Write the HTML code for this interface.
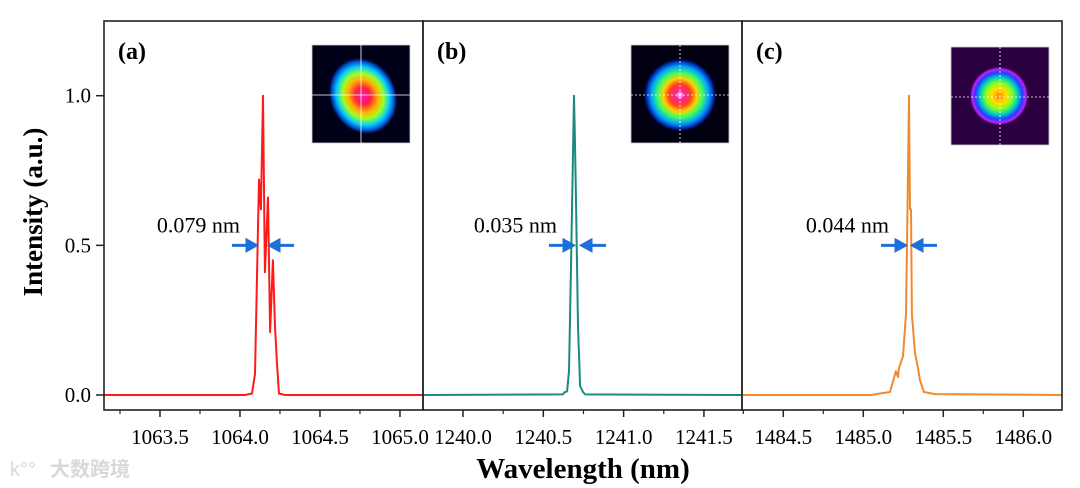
<!DOCTYPE html>
<html><head><meta charset="utf-8">
<style>
html,body{margin:0;padding:0;background:#fff;}
svg{display:block;font-family:"Liberation Serif",serif;}
</style></head>
<body>
<svg id="chart" width="1080" height="488" viewBox="0 0 1080 488">
<defs>
<radialGradient id="gA" cx="0.5" cy="0.5" r="0.5">
<stop offset="0" stop-color="#ff10c0"/><stop offset="0.22" stop-color="#ff2040"/><stop offset="0.42" stop-color="#ffb000"/><stop offset="0.58" stop-color="#a0ff20"/><stop offset="0.75" stop-color="#00d0ff"/><stop offset="0.9" stop-color="#0040c0"/><stop offset="1" stop-color="#000010" stop-opacity="0"/>
</radialGradient>
<radialGradient id="gB" cx="0.5" cy="0.5" r="0.5">
<stop offset="0" stop-color="#ffffff"/><stop offset="0.12" stop-color="#ff20a0"/><stop offset="0.3" stop-color="#ff4020"/><stop offset="0.45" stop-color="#ffd000"/><stop offset="0.6" stop-color="#40ff60"/><stop offset="0.78" stop-color="#00a0ff"/><stop offset="0.92" stop-color="#0020a0"/><stop offset="1" stop-color="#000010" stop-opacity="0"/>
</radialGradient>
<radialGradient id="gC" cx="0.5" cy="0.5" r="0.5">
<stop offset="0" stop-color="#ff8000"/><stop offset="0.25" stop-color="#ffe000"/><stop offset="0.45" stop-color="#80ff20"/><stop offset="0.62" stop-color="#00d0c0"/><stop offset="0.78" stop-color="#2040ff"/><stop offset="0.9" stop-color="#c020ff"/><stop offset="1" stop-color="#300040" stop-opacity="0"/>
</radialGradient>
</defs>
<g id="plots"></g>
<text x="42" y="212" transform="rotate(-90 42 212)" text-anchor="middle" font-size="27" font-weight="bold">Intensity (a.u.)</text>
<text x="583" y="478" text-anchor="middle" font-size="29" font-weight="bold">Wavelength (nm)</text>
<text x="50" y="476" font-size="20" fill="#d8d8d8" font-family="'Liberation Sans','Noto Sans CJK SC',sans-serif" font-weight="bold">大数跨境</text>
<text x="10" y="476" font-size="20" fill="#d8d8d8" font-family="'Liberation Sans',sans-serif">k°°</text>
</svg>
<script>
// Panel (a)
const wlA = [1063.15,1064.031,1064.075,1064.094,1064.106,1064.119,1064.131,1064.144,1064.156,1064.175,1064.188,1064.206,1064.219,1064.231,1064.244,1064.281,1065.144];
const valA = [0,0,0.005,0.07,0.38,0.72,0.62,1.0,0.41,0.66,0.21,0.45,0.23,0.11,0.005,0,0];
// Panel (b)
const wlB = [1239.751,1240.62,1240.635,1240.648,1240.660,1240.672,1240.691,1240.697,1240.704,1240.716,1240.729,1240.747,1240.76,1241.737];
const valB = [0,0.002,0.01,0.012,0.08,0.41,1.0,0.84,0.63,0.23,0.03,0.01,0.002,0];
// Panel (c)
const wlC = [1484.242,1485.05,1485.104,1485.167,1485.204,1485.217,1485.223,1485.248,1485.267,1485.279,1485.286,1485.292,1485.298,1485.304,1485.323,1485.342,1485.354,1485.379,1485.448,1486.242];
const valC = [0,0,0.005,0.01,0.08,0.06,0.09,0.13,0.27,0.72,1.0,0.62,0.62,0.27,0.14,0.09,0.05,0.01,0.003,0];
const ticksA = ["1063.5","1064.0","1064.5","1065.0"];
const ticksB = ["1240.0","1240.5","1241.0","1241.5"];
const ticksC = ["1484.5","1485.0","1485.5","1486.0"];
const yTicks = ["0.0","0.5","1.0"];
const fwhmLabels = ["0.079 nm","0.035 nm","0.044 nm"];
const panelLabels = ["(a)","(b)","(c)"];

const NS="http://www.w3.org/2000/svg";
const root=document.getElementById('plots');
function mk(tag,attrs,parent){const e=document.createElementNS(NS,tag);for(const k in attrs)e.setAttribute(k,attrs[k]);(parent||root).appendChild(e);return e;}
const yTop=21,yBot=410;
function yS(v){return 395-v*299.3;}
const panels=[
 {x0:104,x1:423,lo:1063.15,hi:1065.144,wl:wlA,val:valA,ticks:ticksA,color:"#ff1a1a",arrowX:[256,270],inset:[312,45],dark:"#000018"},
 {x0:423,x1:742,lo:1239.751,hi:1241.737,wl:wlB,val:valB,ticks:ticksB,color:"#1a8a80",arrowX:[573,582],inset:[631,45],dark:"#000010"},
 {x0:742,x1:1062,lo:1484.242,hi:1486.242,wl:wlC,val:valC,ticks:ticksC,color:"#f08a30",arrowX:[905,913],inset:[951,47],dark:"#2a0040"}
];
panels.forEach((p,i)=>{
 const g=mk('g',{});
 
 
 const xS=w=>p.x0+(w-p.lo)/(p.hi-p.lo)*(p.x1-p.x0);
 p.ticks.forEach(t=>{
  const v=parseFloat(t), x=xS(v);
  const tk=mk('line',{x1:x,x2:x,y1:yBot,y2:yBot+7,stroke:"#222","stroke-width":1.5},g);
  
  
  const lb=mk('text',{x:x,y:yBot+34,"text-anchor":"middle","font-size":21},g);
  lb.textContent=t;
  
  
 });
 const first=parseFloat(p.ticks[0]);
 for(let k=-2;k<=4;k++){
  const v=first-0.25+k*0.5, x=xS(v);
  if(x<p.x0+1||x>p.x1+1)continue;
  const m=mk('line',{x1:x,x2:x,y1:yBot,y2:yBot+4,stroke:"#222","stroke-width":1.2},g);
  
  
 }
 const pts=p.wl.map((w,j)=>xS(w).toFixed(1)+","+yS(p.val[j]).toFixed(1)).join(" ");
 const ln=mk('polyline',{points:pts,fill:"none",stroke:p.color,"stroke-width":2,"stroke-linejoin":"round"},g);
 
 
 const pl=mk('text',{x:p.x0+14,y:59,"font-size":24,"font-weight":"bold"},g);
 pl.textContent=panelLabels[i];
 
 
 const ay=yS(0.5);
 const ft=mk('text',{x:p.arrowX[0]-16,y:ay-13,"font-size":22,"text-anchor":"end"},g);
 ft.textContent=fwhmLabels[i];
 
 
 const a1=mk('path',{d:`M${p.arrowX[0]-24},${ay} H${p.arrowX[0]-6} M${p.arrowX[0]},${ay} l-9,-5 v10 z`,stroke:"#1e6fd9","stroke-width":3,fill:"#1e6fd9"},g);
 
 
 const a2=mk('path',{d:`M${p.arrowX[1]+24},${ay} H${p.arrowX[1]+6} M${p.arrowX[1]},${ay} l9,-5 v10 z`,stroke:"#1e6fd9","stroke-width":3,fill:"#1e6fd9"},g);
 
 
 const [ix,iy]=p.inset;
 const ig=mk('g',{},g);
 
 
 mk('rect',{x:ix,y:iy,width:98,height:98,fill:p.dark,stroke:"#ccc","stroke-width":0.8},ig);
 if(i===0) mk('ellipse',{cx:ix+51,cy:iy+51,rx:34,ry:40,fill:"url(#gA)",transform:`rotate(-25 ${ix+51} ${iy+51})`},ig);
 else if(i===1) mk('circle',{cx:ix+49,cy:iy+50,r:37,fill:"url(#gB)"},ig);
 else mk('circle',{cx:ix+48,cy:iy+49,r:30,fill:"url(#gC)"},ig);
 mk('line',{x1:ix,x2:ix+98,y1:iy+50,y2:iy+50,stroke:"#fff","stroke-width":0.8,"stroke-dasharray":i===0?"none":"2,2"},ig);
 mk('line',{x1:ix+49,x2:ix+49,y1:iy,y2:iy+98,stroke:"#fff","stroke-width":0.8,"stroke-dasharray":i===0?"none":"2,2"},ig);
 const fr=mk('rect',{x:p.x0,y:yTop,width:p.x1-p.x0,height:yBot-yTop,fill:"none",stroke:"#222","stroke-width":1.6},g);
 
 
});
yTicks.forEach(t=>{
 const y=yS(parseFloat(t));
 const tk=mk('line',{x1:96,x2:104,y1:y,y2:y,stroke:"#222","stroke-width":1.5});
 
 
 const lb=mk('text',{x:91,y:y+7,"text-anchor":"end","font-size":21});
 lb.textContent=t;
 
 
});
</script>
</body></html>
